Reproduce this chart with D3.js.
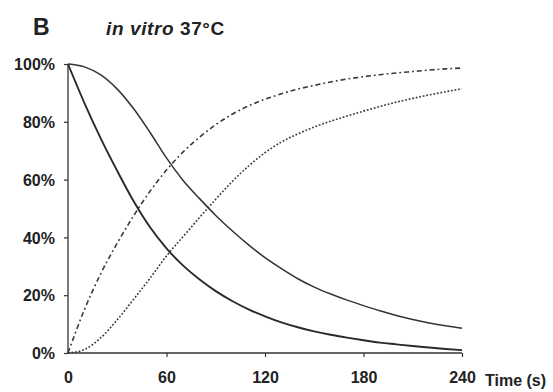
<!DOCTYPE html>
<html>
<head>
<meta charset="utf-8">
<script src="https://cdn.jsdelivr.net/npm/d3@7"></script>
<style>
  html, body { margin: 0; padding: 0; background: #fff; }
  svg { display: block; }
  text { font-family: "Liberation Sans", Arial, sans-serif; fill: #222; }
</style>
</head>
<body>
<svg id="chart" width="553" height="392"></svg>
<script>
// Sampling times (s)
const times = [0, 10, 20, 30, 40, 50, 60, 70, 80, 90, 100, 110, 120, 130, 140, 150, 160, 170, 180, 190, 200, 210, 220, 230, 240];

// Fast decay (solid)
const fastDecay = [100, 86.5, 74.2, 63, 52.5, 43.5, 36.2, 30.3, 25.5, 21.4, 18.0, 15.1, 12.7, 10.6, 8.9, 7.5, 6.3, 5.3, 4.4, 3.6, 3.0, 2.4, 1.9, 1.4, 1.0];
// Delayed decay (solid, sigmoid)
const slowDecay = [100, 99, 96.2, 91.3, 84.5, 76.3, 67.5, 59.8, 53.5, 47.6, 42.3, 37.4, 33.0, 29.2, 25.7, 22.8, 20.4, 18.3, 16.4, 14.6, 13.0, 11.6, 10.4, 9.4, 8.6];
// Fast rise (dash-dot)
const fastRise = [0, 15, 27.5, 38, 47.5, 56, 63.3, 69.5, 74.6, 79, 82.6, 85.5, 87.8, 89.7, 91.3, 92.6, 93.8, 94.8, 95.6, 96.3, 96.9, 97.4, 97.9, 98.3, 98.6];
// Delayed rise (dotted)
const slowRise = [0, 1.2, 5.3, 11.5, 18.6, 25.9, 33.6, 40.2, 46.8, 53.2, 59.3, 64.7, 69.3, 73.0, 75.8, 78.2, 80.2, 82.0, 83.7, 85.3, 86.8, 88.1, 89.3, 90.4, 91.4];

const xTicks = [0, 60, 120, 180, 240];
const yTicks = [0, 20, 40, 60, 80, 100];

const svg = d3.select("#chart");
const x = d3.scaleLinear().domain([0, 240]).range([68, 462]);
const y = d3.scaleLinear().domain([0, 100]).range([353, 64]);

const labelFont = "'Liberation Sans', Arial, sans-serif";

// Heading
svg.append("text").attr("x", 33).attr("y", 35)
  .style("font-size", "23px").style("font-weight", "bold").text("B");
const title = svg.append("text").attr("x", 106).attr("y", 35)
  .style("font-size", "19px").style("font-weight", "bold")
  .style("letter-spacing", "0.6px");
title.append("tspan").style("font-style", "italic").text("in vitro");
title.append("tspan").text(" 37°C");

// Axes
const yAxis = d3.axisLeft(y).tickValues(yTicks).tickSize(4).tickFormat(d => d + "%");
const gy = svg.append("g").attr("transform", "translate(68,0)").call(yAxis);
gy.select(".domain").attr("stroke", "#333").attr("stroke-width", 1.3).attr("d", "M0,64V353");
gy.selectAll(".tick line").attr("stroke", "#333").attr("stroke-width", 1.2);
gy.selectAll(".tick text").attr("x", -13).attr("dy", "0.36em")
  .style("font-size", "16px").style("font-weight", "bold").style("font-family", labelFont).attr("fill", "#222");

const xAxis = d3.axisBottom(x).tickValues(xTicks).tickSize(4).tickFormat(d3.format("d"));
const gx = svg.append("g").attr("transform", "translate(0,353)").call(xAxis);
gx.select(".domain").attr("stroke", "#333").attr("stroke-width", 1.3).attr("d", "M68,0H462");
gx.selectAll(".tick line").attr("stroke", "#333").attr("stroke-width", 1.2)
  .attr("y2", d => d === 0 ? 0 : 4);
gx.selectAll(".tick text").attr("y", 30).attr("dy", "0")
  .style("font-size", "16px").style("font-weight", "bold").style("font-family", labelFont).attr("fill", "#222");

svg.append("text").attr("x", 485).attr("y", 386)
  .style("font-size", "16px").style("font-weight", "bold").text("Time (s)");

// Curves
const line = d3.line()
  .x(d => x(d[0]))
  .y(d => y(d[1]))
  .curve(d3.curveMonotoneX);

const series = [
  { values: fastDecay, dash: null, width: 1.9, color: "#2a2a2a" },
  { values: slowDecay, dash: null, width: 1.5, color: "#333" },
  { values: fastRise, dash: "5,3,1.8,3", width: 1.6, color: "#3a3a3a" },
  { values: slowRise, dash: "1.8,1.8", width: 1.6, color: "#3a3a3a" }
];

svg.append("g").selectAll("path").data(series).join("path")
  .attr("d", s => line(times.map((t, i) => [t, s.values[i]])))
  .attr("fill", "none")
  .attr("stroke", s => s.color)
  .attr("stroke-width", s => s.width)
  .attr("stroke-dasharray", s => s.dash);
</script>
</body>
</html>
